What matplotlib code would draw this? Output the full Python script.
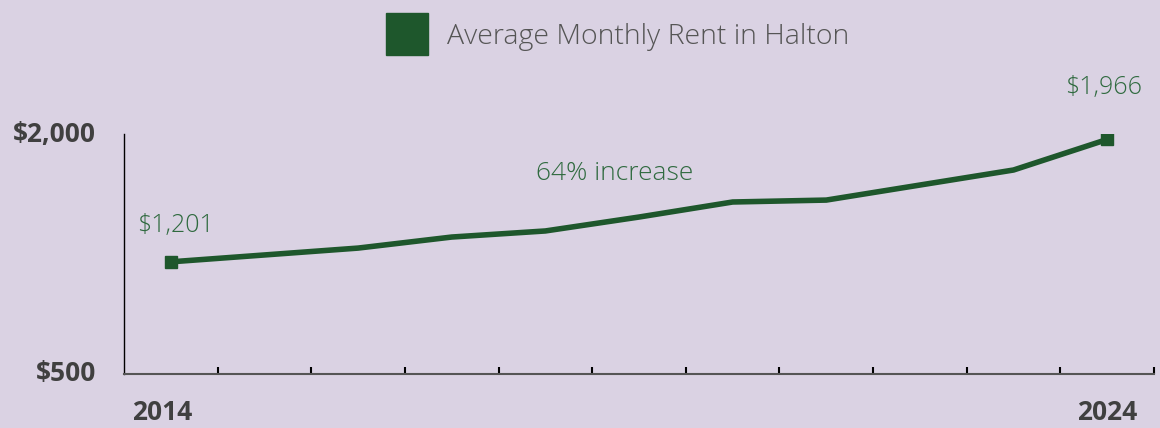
import matplotlib
matplotlib.use("Agg")
import matplotlib.pyplot as plt
from matplotlib.lines import Line2D

# datos
anios = [2014, 2015, 2016, 2017, 2018, 2019, 2020, 2021, 2022, 2023, 2024]
renta = [1201, 1244, 1287, 1356, 1394, 1481, 1575, 1587, 1681, 1775, 1966]
serie = "Average Monthly Rent in Halton"
nota = "64% increase"

fondo = "#dad2e3"
verde = "#1e572c"
verde_txt = "#2f6a3f"
gris = "#404040"

plt.rcParams['font.family'] = ['Open Sans', 'DejaVu Sans']

fig = plt.figure(figsize=(11.6, 4.28), dpi=100)
fig.patch.set_facecolor(fondo)
ax = fig.add_axes([124/1160, 1-374/428, 1030/1160, 240/428])
ax.set_facecolor(fondo)

x = list(range(len(anios)))
ax.plot(x, renta, color=verde, lw=4, marker='s', markersize=9,
        markevery=[0, len(x)-1], solid_joinstyle='miter')

ax.set_xlim(-0.5, len(x)-0.5)
ax.set_ylim(500, 2000)

for s in ['top', 'right']:
    ax.spines[s].set_visible(False)
ax.spines['left'].set_color('black')
ax.spines['left'].set_linewidth(1)
ax.spines['bottom'].set_color('#555555')
ax.spines['bottom'].set_linewidth(1.5)

ax.set_xticks([i + 0.5 for i in x])
ax.set_xticklabels([])
ax.tick_params(axis='x', direction='in', length=5, width=1.5, color='black')
ax.set_yticks([])

# etiquetas de ejes
for v, t in [(2000, "$2,000"), (500, "$500")]:
    ax.annotate(t, (-0.5, v), xytext=(-28, 0), textcoords='offset pixels',
                ha='right', va='center', fontsize=19, fontweight='bold',
                color=gris, annotation_clip=False)
ax.annotate(str(anios[0]), (x[0], 500), xytext=(-9, -38), textcoords='offset pixels',
            ha='center', va='center', fontsize=19, fontweight='bold', color=gris,
            annotation_clip=False)
ax.annotate(str(anios[-1]), (x[-1], 500), xytext=(0, -38), textcoords='offset pixels',
            ha='center', va='center', fontsize=19, fontweight='bold', color=gris,
            annotation_clip=False)

# valores extremos
ax.annotate("${:,}".format(renta[0]), (x[0], renta[0]), xytext=(5, 36),
            textcoords='offset pixels', ha='center', va='center', fontsize=18,
            fontweight='light', color=verde_txt, annotation_clip=False)
ax.annotate("${:,}".format(renta[-1]), (x[-1], renta[-1]), xytext=(-4, 52),
            textcoords='offset pixels', ha='center', va='center', fontsize=18,
            fontweight='light', color=verde_txt, annotation_clip=False)
ax.text(615/1160, 1-174/428, nota, transform=fig.transFigure, ha='center',
        va='center', fontsize=19, fontweight='light', color=verde_txt)

# leyenda
h = Line2D([], [], color=verde, marker='s', markersize=30, lw=0)
fig.legend([h], [serie], loc='center', bbox_to_anchor=(620/1160, 1-37/428),
           frameon=False, handletextpad=0.8, handlelength=1.2,
           labelcolor='#555555', prop={'weight': 'light', 'size': 20.5})

fig.savefig("out.png", dpi=100, facecolor=fondo)
